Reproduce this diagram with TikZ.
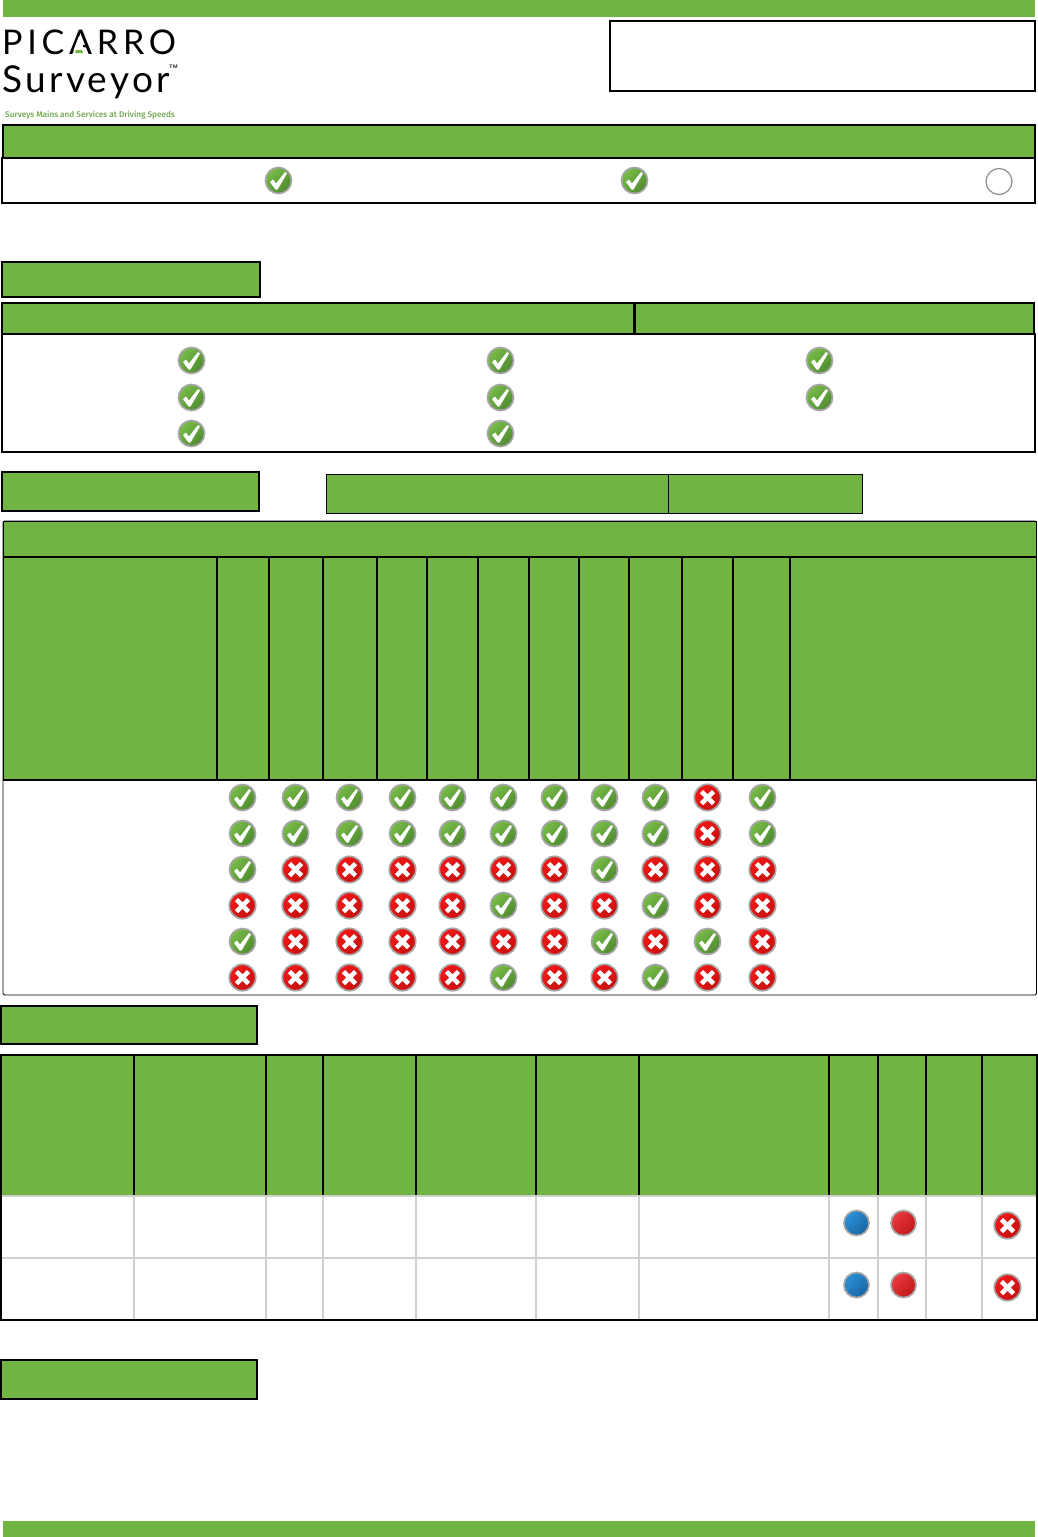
\documentclass[tikz,border=0pt]{standalone}
\usepackage{fontspec}
\newfontfamily\logofont[LetterSpace=14]{Lato}
\newfontfamily\logofontb[LetterSpace=9]{Lato}
\newfontfamily\tagfont{Fira Sans Medium}
\definecolor{pgreen}{HTML}{70B441}
\definecolor{pgrid}{HTML}{D0D0D0}
\definecolor{tagg}{HTML}{6FA84F}
\definecolor{pblue}{HTML}{2A90D8}
\definecolor{pbluedark}{HTML}{1A65A0}
\definecolor{pred}{HTML}{EA3A40}
\definecolor{preddark}{HTML}{C01818}
\definecolor{xred}{HTML}{F01818}
\definecolor{xreddark}{HTML}{C81010}
\definecolor{ygreen}{HTML}{78BC48}
\definecolor{ygreendark}{HTML}{4E8A30}
\tikzset{
  x=1pt,y=-1pt,
  greenbox/.style={fill=pgreen,draw=black,line width=2pt},
  thinbox/.style={fill=pgreen,draw=black,line width=1pt},
  bar/.style={fill=pgreen,draw=none},
  rule/.style={draw=black,line width=2pt},
  gridline/.style={draw=pgrid,line width=1.5pt},
  iconring/.style={draw=black!35,line width=1.7pt},
  pics/yesicon/.style={code={
    \shade[top color=ygreen,bottom color=ygreendark,shading angle=45,shading=axis] (0.5,0.5) circle (13);
    \draw[iconring] (0.5,0.5) circle (13);
    \fill[white] (-8,2) -- (-5,-0.5) -- (-2,3.5) -- (7,-8) -- (9,-6.5) -- (-0.5,9.5) -- (-2.5,9.5) -- cycle;}},
  pics/noicon/.style={code={
    \shade[top color=xred,bottom color=xreddark,shading angle=45,shading=axis] (0.5,0.5) circle (13.2);
    \draw[iconring] (0.5,0.5) circle (13.2);
    \draw[white,line width=4.6pt] (-5.5,-5.5) -- (6.5,6.5) (-5.5,6.5) -- (6.5,-5.5);}},
  pics/dot/.style 2 args={code={
    \shade[top color=#1,bottom color=#2,shading angle=45,shading=axis] (0.5,0) circle (12.5);
    \draw[iconring] (0.5,0) circle (12.5);}},
  pics/emptyicon/.style={code={
    \draw[black!45,line width=1.2pt] (0,0) circle (13);}},
}
\begin{document}
\begin{tikzpicture}
\useasboundingbox (0,0) rectangle (1038,1537);
\fill[white] (0,0) rectangle (1038,1537);
% bars
\fill[bar] (3,0) rectangle (1035,17);
\fill[bar] (3,1521) rectangle (1035,1537);
% logo
\node[name=logoa,anchor=west,inner sep=0pt,font=\logofont\fontsize{34}{34}\selectfont] at (2,42) {PICARRO};
\fill[white] (79,36) -- (73.5,50) -- (84.5,50) -- cycle;
\fill[pgreen] (76,50) -- (82,50) -- (83,53) -- (75,53) -- cycle;
\node[name=logob,anchor=west,inner sep=0pt,font=\logofontb\fontsize{37}{37}\selectfont] at (2,82) {Surveyor};
\node[name=logotm,anchor=west,inner sep=0pt,font=\sffamily\bfseries\fontsize{5}{5}\selectfont] at (169,67) {TM};
\node[name=logoc,anchor=west,inner sep=0pt,text=tagg,font=\tagfont\fontsize{8.2}{9}\selectfont] at (5,115) {Surveys Mains and Services at Driving Speeds};
% top right box
\draw[rule,fill=white] (610,21) rectangle (1035,91);
% section 1
\draw[rule,fill=white] (2,158) rectangle (1035,203);
\draw[greenbox] (3,125) rectangle (1035,158);
\path (278,180) pic{yesicon} (634,180) pic{yesicon} (999,181.5) pic{emptyicon};
% section 2
\draw[greenbox] (2,262) rectangle (260,297);
\draw[rule,fill=white] (2,334) rectangle (1035,452);
\draw[greenbox] (2,303) rectangle (1034,334);
\draw[draw=black,line width=3pt] (634,303) -- (634,334);
\foreach \x in {191,500} \foreach \y in {360,397,433} \path (\x,\y) pic{yesicon};
\foreach \y in {360,397} \path (819,\y) pic{yesicon};
% section 3
\draw[greenbox] (2,472) rectangle (259,511);
\draw[thinbox] (326.5,474.5) rectangle (668,513);
\draw[thinbox] (668,474.5) rectangle (862.5,513);
\draw[draw=black,line width=0.8pt,fill=white,rounded corners=1.5pt] (3,521) rectangle (1036.5,995);
\draw[thinbox] (3,521) rectangle (1036.5,557);
\fill[pgreen] (3,557) rectangle (1036.5,780);
\draw[rule] (3,557) -- (1036.5,557) (3,780) -- (1036.5,780);
\draw[draw=black,line width=1pt] (3,521) -- (3,780) (1036.5,521) -- (1036.5,780);
\foreach \x in {217,269,323,377,427,478,529,579,629,682,733,790} \draw[rule] (\x,557) -- (\x,780);
\newcommand{\iconrow}[2]{%
  \foreach \x/\k in {#2} {%
    \ifnum\k=1 \path (\x,#1) pic{yesicon};\else \path (\x,#1) pic{noicon};\fi}}
\iconrow{797}{242/1,295/1,349/1,402/1,452/1,503/1,554/1,604/1,655/1,707/0,762/1}
\iconrow{833}{242/1,295/1,349/1,402/1,452/1,503/1,554/1,604/1,655/1,707/0,762/1}
\iconrow{869}{242/1,295/0,349/0,402/0,452/0,503/0,554/0,604/1,655/0,707/0,762/0}
\iconrow{905}{242/0,295/0,349/0,402/0,452/0,503/1,554/0,604/0,655/1,707/0,762/0}
\iconrow{941}{242/1,295/0,349/0,402/0,452/0,503/0,554/0,604/1,655/0,707/1,762/0}
\iconrow{977}{242/0,295/0,349/0,402/0,452/0,503/1,554/0,604/0,655/1,707/0,762/0}
% section 4
\draw[greenbox] (1,1006) rectangle (257,1044);
\fill[pgreen] (1,1055) rectangle (1037,1195);
\foreach \x in {134,266,323,416,536,639,829,878,926,982} {
  \draw[rule] (\x,1055) -- (\x,1195);
  \draw[gridline] (\x,1196) -- (\x,1320);}
\draw[gridline] (1,1196) -- (1037,1196) (1,1258) -- (1037,1258);
\draw[rule] (1,1055) rectangle (1037,1320);
\foreach \y in {1223,1285} {
  \path (856,\y) pic{dot={pblue}{pbluedark}};
  \path (903,\y) pic{dot={pred}{preddark}};
  \path (1007,\y+2) pic{noicon};}
% section 5
\draw[greenbox] (1,1360) rectangle (257,1399);
\end{tikzpicture}
\end{document}
